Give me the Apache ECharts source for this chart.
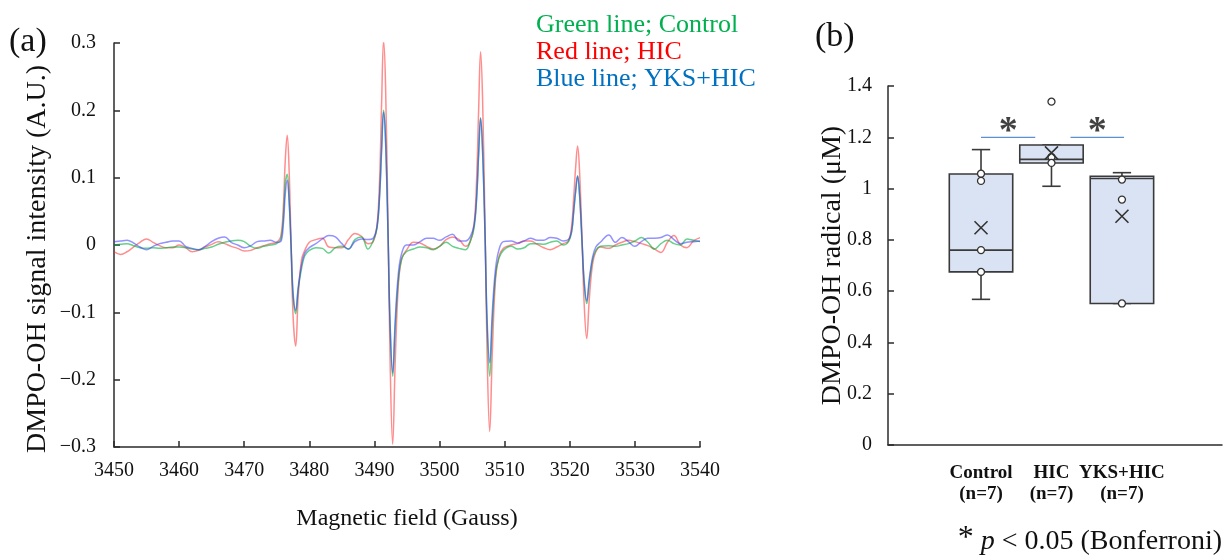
<!DOCTYPE html>
<html>
<head>
<meta charset="utf-8">
<script src="https://cdn.jsdelivr.net/npm/echarts@6/dist/echarts.min.js"></script>
<style>html,body{margin:0;padding:0;background:#fff}#chart{width:1226px;height:559px}</style>
</head>
<body>
<div id="chart"></div>
<script>
// ---------- Panel (a): ESR spectra ----------
const field = [
  3450,3451,3452,3453,3454,3455,3456,3457,3458,3459,3460,3461,3462,3463,3464,3465,3466,3467,3468,3469,3470,3471,3472,3473,3474,3475,
  3475.6,3476.0,3476.3,3476.6,3476.9,3477.2,3477.5,3477.9,3478.3,3478.8,3479.3,3480.0,
  3481,3482,3483,3484,3485,3486,3487,3488,3489,
  3489.8,3490.4,3490.8,3491.1,3491.4,3491.7,3492.1,3492.4,3492.8,3493.2,3493.7,3494.2,3494.9,
  3496,3497,3498,3499,3500,3501,3502,3503,3504,
  3504.7,3505.3,3505.7,3506.0,3506.3,3506.6,3507.0,3507.3,3507.7,3508.1,3508.6,3509.1,3509.8,
  3511,3512,3513,3514,3515,3516,3517,3518,3519,
  3519.8,3520.3,3520.6,3520.9,3521.2,3521.5,3521.9,3522.2,3522.6,3523.0,3523.5,3524.0,3524.7,
  3526,3527,3528,3529,3530,3531,3532,3533,3534,3535,3536,3537,3538,3539,3540
];
const hicSignal = [
  -0.010,-0.014,-0.010,-0.003,0.004,0.009,0.004,-0.001,-0.004,-0.004,0.000,-0.004,-0.010,-0.008,-0.003,0.001,0.005,0.002,-0.002,-0.005,-0.009,-0.008,-0.004,-0.001,0.002,0.004,
  0.012,0.055,0.125,0.163,0.110,0.000,-0.105,-0.150,-0.075,-0.022,-0.008,0.004,
  0.008,0.010,-0.003,-0.004,-0.004,0.008,0.017,0.013,0.002,
  0.005,0.030,0.100,0.210,0.303,0.240,0.020,-0.170,-0.296,-0.170,-0.055,-0.020,-0.008,
  0.004,0.003,-0.002,-0.006,-0.002,0.008,0.012,0.008,-0.002,
  0.005,0.030,0.100,0.200,0.287,0.220,0.020,-0.160,-0.277,-0.160,-0.050,-0.018,-0.005,
  0.000,0.002,0.006,0.006,0.001,-0.004,-0.007,-0.003,0.002,
  0.006,0.030,0.070,0.115,0.147,0.110,0.005,-0.085,-0.139,-0.080,-0.028,-0.010,-0.003,
  -0.005,0.000,0.004,0.007,0.005,0.002,-0.001,-0.006,-0.011,0.004,0.014,0.000,-0.004,0.006,0.011
];
const controlSignal = [
  0.000,0.001,0.002,-0.001,-0.004,-0.005,-0.004,-0.005,-0.004,-0.003,-0.003,-0.004,-0.006,-0.007,-0.005,-0.003,0.001,0.004,0.006,0.007,0.005,-0.002,-0.005,-0.002,0.000,0.002,
  0.008,0.040,0.090,0.105,0.065,-0.005,-0.075,-0.102,-0.065,-0.035,-0.016,-0.008,
  -0.004,-0.005,-0.012,-0.004,-0.002,-0.006,0.008,0.012,-0.006,
  0.006,0.025,0.075,0.145,0.200,0.160,0.010,-0.120,-0.195,-0.120,-0.050,-0.020,-0.010,
  -0.006,-0.003,-0.004,-0.007,-0.002,0.004,-0.002,-0.005,-0.007,
  0.005,0.025,0.070,0.135,0.189,0.145,0.010,-0.120,-0.195,-0.115,-0.045,-0.020,-0.008,
  -0.002,-0.006,-0.004,0.002,0.002,0.001,0.004,0.006,0.000,
  0.005,0.020,0.050,0.080,0.103,0.075,0.000,-0.055,-0.087,-0.055,-0.022,-0.008,-0.002,
  -0.001,-0.002,0.000,0.002,0.006,0.011,0.004,-0.006,0.002,0.007,0.002,0.000,0.009,0.007,0.005
];
const yksSignal = [
  0.005,0.006,0.007,0.003,-0.003,-0.007,-0.002,0.002,0.004,0.006,0.006,-0.002,-0.005,-0.007,-0.002,0.005,0.010,0.012,0.004,0.000,-0.004,-0.001,0.005,0.006,0.007,0.004,
  0.005,0.030,0.075,0.096,0.065,0.000,-0.070,-0.097,-0.062,-0.030,-0.012,-0.004,
  0.002,0.009,0.014,0.012,0.002,-0.006,0.005,0.009,0.008,
  0.010,0.028,0.075,0.140,0.197,0.155,0.010,-0.115,-0.190,-0.110,-0.040,-0.012,0.000,
  0.000,0.005,0.010,0.010,0.007,0.012,0.016,0.006,0.006,
  0.012,0.030,0.072,0.135,0.188,0.140,0.008,-0.110,-0.175,-0.100,-0.035,-0.008,0.005,
  0.006,0.003,0.006,0.010,0.007,0.007,0.011,0.010,0.006,
  0.008,0.022,0.050,0.080,0.102,0.075,0.002,-0.052,-0.083,-0.050,-0.018,-0.003,0.004,
  0.015,0.004,0.011,0.005,-0.002,0.005,0.010,0.010,0.011,0.015,0.008,0.002,0.004,0.005,0.006
];
const legendLines = ['Green line; Control', 'Red line; HIC', 'Blue line; YKS+HIC'];

// ---------- Panel (b): box plot ----------
const groups = ['Control', 'HIC', 'YKS+HIC'];
const groupN = ['(n=7)', '(n=7)', '(n=7)'];
const boxMin    = [0.568, 1.009, 0.552];
const boxQ1     = [0.675, 1.100, 0.552];
const boxMedian = [0.760, 1.114, 1.039];
const boxQ3     = [1.057, 1.170, 1.048];
const boxMax    = [1.152, 1.170, 1.062];
const boxMean   = [0.847, 1.139, 0.892];
const controlPoints = [1.058, 1.030, 0.760, 0.675];
const hicPoints     = [1.339, 1.123, 1.100];
const yksPoints     = [1.035, 0.957, 0.552];
const sigPairs  = [[1, 1.77], [2.27, 3.03]];   // x extents of significance bars
const sigLevel  = 1.2;

const SERIF = "'Liberation Serif', 'DejaVu Serif', serif";
const AX = '#2b2b2b';

const zip = (ys) => field.map((g, i) => [g, ys[i]]);
const boxData = groups.map((g, i) => [i + 1, boxMin[i], boxQ1[i], boxMedian[i], boxQ3[i], boxMax[i]]);
const pointData = [].concat(
  controlPoints.map(v => [1, v]),
  hicPoints.map(v => [2, v]),
  yksPoints.map(v => [3, v])
);
const meanData = boxMean.map((v, i) => [i + 1, v]);
const sigLineData = [];
sigPairs.forEach((p, k) => {
  if (k > 0) sigLineData.push(null);
  sigLineData.push([p[0], sigLevel], [p[1], sigLevel]);
});
const starData = sigPairs.map(p => [(p[0] + p[1]) / 2, sigLevel]);

function renderBox(params, api) {
  const x = api.value(0);
  const pLo = api.coord([x, api.value(1)]);
  const pQ1 = api.coord([x, api.value(2)]);
  const pMed = api.coord([x, api.value(3)]);
  const pQ3 = api.coord([x, api.value(4)]);
  const pHi = api.coord([x, api.value(5)]);
  const halfW = api.size([0.9, 0])[0] / 2;
  const capW = api.size([0.26, 0])[0] / 2;
  const st = { stroke: '#3a3a3a', lineWidth: 1.6, fill: null };
  return {
    type: 'group',
    children: [
      { type: 'line', shape: { x1: pQ3[0], y1: pQ3[1], x2: pHi[0], y2: pHi[1] }, style: st },
      { type: 'line', shape: { x1: pQ1[0], y1: pQ1[1], x2: pLo[0], y2: pLo[1] }, style: st },
      { type: 'line', shape: { x1: pHi[0] - capW, y1: pHi[1], x2: pHi[0] + capW, y2: pHi[1] }, style: st },
      { type: 'line', shape: { x1: pLo[0] - capW, y1: pLo[1], x2: pLo[0] + capW, y2: pLo[1] }, style: st },
      { type: 'rect', shape: { x: pQ3[0] - halfW, y: pQ3[1], width: 2 * halfW, height: pQ1[1] - pQ3[1] },
        style: { fill: '#dae3f3', stroke: '#3a3a3a', lineWidth: 1.6 } },
      { type: 'line', shape: { x1: pMed[0] - halfW, y1: pMed[1], x2: pMed[0] + halfW, y2: pMed[1] }, style: st }
    ]
  };
}

const chart = echarts.init(document.getElementById('chart'), null, { renderer: 'canvas' });

const option = {
  backgroundColor: '#fff',
  animation: false,
  textStyle: { fontFamily: SERIF },
  grid: [
    { left: 114, top: 43, width: 586, height: 404 },
    { left: 888, top: 86, width: 334, height: 359 }
  ],
  xAxis: [
    {
      gridIndex: 0, type: 'value', min: 3450, max: 3540, interval: 10,
      axisLine: { onZero: false, lineStyle: { color: AX, width: 1.5 } },
      axisTick: { inside: true, length: 6, lineStyle: { color: AX, width: 1.5 } },
      axisLabel: { color: '#111', fontSize: 20, fontFamily: SERIF, margin: 14, formatter: v => String(v) },
      splitLine: { show: false },
      name: 'Magnetic field (Gauss)', nameLocation: 'middle', nameGap: 60,
      nameTextStyle: { color: '#111', fontSize: 24, fontFamily: SERIF }
    },
    {
      gridIndex: 1, type: 'value', min: -0.32, max: 4.42,
      axisLine: { onZero: false, lineStyle: { color: AX, width: 1.5 } },
      axisTick: { show: false },
      splitLine: { show: false },
      axisLabel: {
        customValues: [1, 2, 3], margin: 18, color: '#111', fontSize: 19, fontWeight: 'bold',
        fontFamily: SERIF, lineHeight: 21,
        formatter: v => groups[Math.round(v) - 1] + '\n' + groupN[Math.round(v) - 1]
      }
    }
  ],
  yAxis: [
    {
      gridIndex: 0, type: 'value', min: -0.3, max: 0.3, interval: 0.1,
      axisLine: { show: true, onZero: false, lineStyle: { color: AX, width: 1.5 } },
      axisTick: { show: true, inside: true, length: 6, lineStyle: { color: AX, width: 1.5 } },
      axisLabel: {
        color: '#111', fontSize: 20, fontFamily: SERIF, margin: 18,
        formatter: v => { const r = Math.round(v * 10) / 10; return r === 0 ? '0' : (r < 0 ? '\u2212' + Math.abs(r).toFixed(1) : r.toFixed(1)); }
      },
      splitLine: { show: false },
      name: 'DMPO-OH signal intensity (A.U.)', nameLocation: 'middle', nameGap: 62,
      nameTextStyle: { color: '#111', fontSize: 28, fontFamily: SERIF, padding: [0, 28, 0, 0] }
    },
    {
      gridIndex: 1, type: 'value', min: 0, max: 1.4, interval: 0.2,
      axisLine: { show: true, onZero: false, lineStyle: { color: AX, width: 1.5 } },
      axisTick: { show: true, inside: true, length: 6, lineStyle: { color: AX, width: 1.5 } },
      axisLabel: { color: '#111', fontSize: 20, fontFamily: SERIF, margin: 16 },
      splitLine: { show: false },
      name: 'DMPO-OH radical (\u03bcM)', nameLocation: 'middle', nameGap: 41, nameMoveOverlap: false,
      nameTextStyle: { color: '#111', fontSize: 28, fontFamily: SERIF }
    }
  ],
  series: [
    { name: 'HIC', type: 'line', xAxisIndex: 0, yAxisIndex: 0, data: zip(hicSignal), smooth: 0.4,
      symbol: 'none', lineStyle: { color: '#ff3030', width: 1.5, opacity: 0.55 } },
    { name: 'Control', type: 'line', xAxisIndex: 0, yAxisIndex: 0, data: zip(controlSignal), smooth: 0.4,
      symbol: 'none', lineStyle: { color: '#00b040', width: 1.5, opacity: 0.6 } },
    { name: 'YKS+HIC', type: 'line', xAxisIndex: 0, yAxisIndex: 0, data: zip(yksSignal), smooth: 0.4,
      symbol: 'none', lineStyle: { color: '#3a3aff', width: 1.5, opacity: 0.55 } },
    { name: 'box', type: 'custom', xAxisIndex: 1, yAxisIndex: 1, renderItem: renderBox,
      encode: { x: 0, y: [1, 2, 3, 4, 5] }, data: boxData, z: 2 },
    { name: 'points', type: 'scatter', xAxisIndex: 1, yAxisIndex: 1, data: pointData, symbol: 'circle',
      symbolSize: 7, itemStyle: { color: '#fff', borderColor: '#333', borderWidth: 1.3, opacity: 1 }, z: 4 },
    { name: 'mean', type: 'scatter', xAxisIndex: 1, yAxisIndex: 1, data: meanData,
      symbol: 'path://M0,0L10,10M10,0L0,10', symbolSize: 13,
      itemStyle: { color: 'rgba(0,0,0,0)', borderColor: '#333', borderWidth: 1.6, opacity: 1 }, z: 5 },
    { name: 'sig', type: 'line', xAxisIndex: 1, yAxisIndex: 1, data: sigLineData, symbol: 'none',
      connectNulls: false, lineStyle: { color: '#5b8fd6', width: 1.3 }, z: 3 },
    { name: 'star', type: 'scatter', xAxisIndex: 1, yAxisIndex: 1, data: starData, symbolSize: 0,
      label: { show: true, formatter: '*', position: 'inside', color: '#111', fontSize: 38, fontWeight: 'bold',
        fontFamily: SERIF, offset: [0, -5] }, z: 5 }
  ],
  graphic: [
    { type: 'text', left: 9, top: 25, style: { text: '(a)', fill: '#111', font: '34px ' + SERIF } },
    { type: 'text', left: 815, top: 20, style: { text: '(b)', fill: '#111', font: '34px ' + SERIF } },
    { type: 'text', left: 536, top: 12, style: { text: legendLines[0], fill: '#00b050', font: '26px ' + SERIF } },
    { type: 'text', left: 536, top: 39, style: { text: legendLines[1], fill: '#ff0000', font: '26px ' + SERIF } },
    { type: 'text', left: 536, top: 66, style: { text: legendLines[2], fill: '#0070c0', font: '26px ' + SERIF } },
    { type: 'text', right: 4, top: 523, style: {
        text: '{s|*} {i|p} < 0.05 (Bonferroni)', fill: '#111', font: '28px ' + SERIF,
        rich: { s: { fontSize: 32, fontFamily: SERIF, fill: '#111', verticalAlign: 'top', padding: [0, 0, 6, 0] },
                i: { fontSize: 28, fontStyle: 'italic', fontFamily: SERIF, fill: '#111' } } } }
  ]
};
chart.setOption(option);
</script>
</body>
</html>
